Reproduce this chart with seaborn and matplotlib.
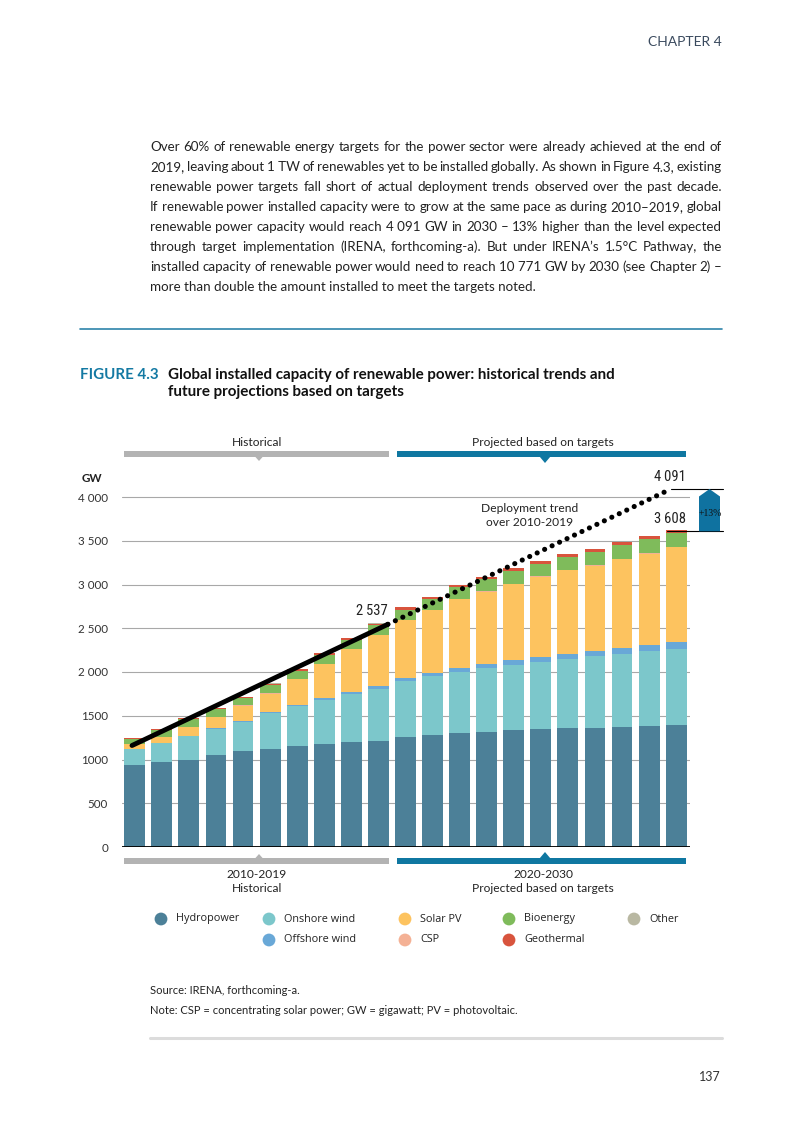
import numpy as np
import pandas as pd
import seaborn as sns
import matplotlib
matplotlib.use("Agg")
import matplotlib.pyplot as plt
from matplotlib import font_manager as fm
from matplotlib.patches import Polygon, Rectangle
from matplotlib.lines import Line2D
from matplotlib.transforms import blended_transform_factory

# ---------------- data ----------------
years = list(range(2010, 2031))
hydropower    = [942, 977, 1000, 1046, 1092, 1115, 1149, 1172, 1195, 1207, 1253, 1276, 1299, 1310, 1333, 1345, 1356, 1356, 1368, 1379, 1391]
onshore_wind  = [180, 211, 265, 306, 337, 417, 464, 510, 552, 601, 647, 680, 705, 740, 751, 774, 793, 832, 839, 862, 873]
offshore_wind = [2, 3, 4, 9, 9, 12, 15, 19, 23, 31, 31, 34, 42, 42, 57, 57, 58, 53, 69, 69, 84]
solar_pv      = [48, 69, 106, 126, 178, 210, 287, 386, 488, 580, 660, 716, 787, 825, 864, 913, 955, 971, 1010, 1040, 1075]
csp           = [1, 1, 2, 3, 4, 4, 5, 5, 6, 6, 6, 6, 6, 6, 6, 6, 6, 7, 7, 7, 8]
bioenergy     = [56, 76, 83, 82, 79, 92, 91, 103, 101, 109, 117, 121, 128, 140, 144, 140, 151, 158, 157, 159, 155]
geothermal    = [14, 15, 13, 15, 17, 17, 18, 20, 20, 20, 24, 25, 24, 25, 28, 32, 28, 30, 32, 34, 34]
other         = [2, 2, 2, 2, 2, 2, 2, 2, 3, 3, 3, 3, 3, 3, 3, 3, 3, 3, 3, 3, 3]

series_names = ["Hydropower", "Onshore wind", "Offshore wind", "Solar PV", "CSP", "Bioenergy", "Geothermal", "Other"]
series_colors = ["#4c8098", "#7cc7cb", "#69a8d7", "#fdc35f", "#f4b195", "#7fbb5b", "#d8543d", "#b9b8a2"]

# deployment trend 2010-2019 extrapolated to 2030 (bar index, GW)
trend_index = [-0.1, 9.35, 19.8]
trend_gw = [1160, 2545, 4091]
label_2019 = "2\u2009537"
label_trend_2030 = "4\u2009091"
label_target_2030 = "3\u2009608"
value_target_2030 = 3608
value_trend_2030 = 4091
pct_label = "+13%"

yticks = [0, 500, 1000, 1500, 2000, 2500, 3000, 3500, 4000]
ytick_labels = ["0", "500", "1000", "1500", "2 000", "2 500", "3 000", "3 500", "4 000"]

body_lines = [
    "Over 60% of renewable energy targets for the power sector were already achieved at the end of",
    "2019, leaving about 1\u00a0TW of renewables yet to be installed globally. As shown in Figure 4.3, existing",
    "renewable power targets fall short of actual deployment trends observed over the past decade.",
    "If renewable power installed capacity were to grow at the same pace as during 2010\u20132019, global",
    "renewable power capacity would reach 4\u00a0091 GW in 2030 \u2013 13% higher than the level expected",
    "through target implementation (IRENA, forthcoming-a). But under IRENA\u2019s 1.5\u00b0C Pathway, the",
    "installed capacity of renewable power would need to reach 10\u00a0771 GW by 2030 (see Chapter 2) \u2013",
    "more than double the amount installed to meet the targets noted.",
]

# ---------------- fonts ----------------
def has_font(name):
    try:
        fm.findfont(fm.FontProperties(family=name), fallback_to_default=False)
        return True
    except Exception:
        return False

NARROW = "Liberation Sans Narrow" if has_font("Liberation Sans Narrow") else ("Roboto Condensed" if has_font("Roboto Condensed") else "Liberation Sans")
BODY = "Lato" if has_font("Lato") else "DejaVu Sans"
TITLE = "Lato" if has_font("Lato") else "DejaVu Sans"
WIDE = "Open Sans" if has_font("Open Sans") else BODY

sns.set_theme(style="white")
plt.rcParams["font.family"] = [BODY, "DejaVu Sans"]

W, H = 803, 1134
fig = plt.figure(figsize=(W / 100, H / 100), dpi=100)
page = fig.add_axes([0, 0, 1, 1])
page.set_xlim(0, W)
page.set_ylim(H, 0)
page.axis("off")
renderer = fig.canvas.get_renderer()

def twidth(s, size, family, weight="normal"):
    t = page.text(0, 0, s, fontsize=size, fontfamily=family, fontweight=weight)
    w = t.get_window_extent(renderer).width
    t.remove()
    return w

def fit_size(s, target, family, weight="normal"):
    return 10 * target / twidth(s, 10, family, weight)

# ---------------- chart ----------------
Y0 = 847.0
PX_PER_GW = 0.0875
YMAX = 4350
ax_top = Y0 - YMAX * PX_PER_GW
ax = fig.add_axes([122 / W, (H - Y0) / H, 568 / W, (Y0 - ax_top) / H])
ax.set_facecolor("none")

df = pd.DataFrame({
    "year": [str(y) for y in years],
    "Hydropower": hydropower, "Onshore wind": onshore_wind, "Offshore wind": offshore_wind,
    "Solar PV": solar_pv, "CSP": csp, "Bioenergy": bioenergy, "Geothermal": geothermal, "Other": other,
})
cum = df[series_names].cumsum(axis=1)
for name, col in reversed(list(zip(series_names, series_colors))):
    sns.barplot(x=df["year"], y=cum[name], color=col, saturation=1, width=0.77,
                errorbar=None, linewidth=0, ax=ax, zorder=2)

tick_size = fit_size("4 000", 30, BODY)
ax.set_xlabel("")
ax.set_ylabel("")
ax.set_xticks([])
ax.set_xlim(-0.47, 20.51)
ax.set_ylim(0, YMAX)
ax.set_yticks(yticks)
ax.set_yticklabels(ytick_labels, fontfamily=BODY, fontsize=tick_size, color="#333333")
ax.tick_params(axis="y", length=0, pad=10)
ax.yaxis.grid(True, color="#a8a8a8", lw=0.8)
ax.set_axisbelow(True)
for s in ax.spines.values():
    s.set_visible(False)
ax.axhline(0, color="black", lw=1.3, zorder=3)

# trend line
ax.plot(trend_index[:2], trend_gw[:2], color="black", lw=3.5, solid_capstyle="round", zorder=6)
ax.plot(trend_index[1:], trend_gw[1:], color="black", lw=3.7, linestyle=(0, (0.01, 1.6)),
        dash_capstyle="round", zorder=6, clip_on=False)

# annotations on the right
tr = blended_transform_factory(page.transData, ax.transData)
ax.add_line(Line2D([671, 723], [value_trend_2030] * 2, color="black", lw=0.8, transform=tr, clip_on=False))
ax.add_line(Line2D([667, 723], [value_target_2030] * 2, color="black", lw=0.8, transform=tr, clip_on=False))
shoulder = 85
arrow = Polygon([(699, value_target_2030), (720, value_target_2030), (720, value_trend_2030 - shoulder),
                 (709.5, value_trend_2030), (699, value_trend_2030 - shoulder)],
                closed=True, facecolor="#0f72a0", edgecolor="none", transform=tr, clip_on=False, zorder=7)
ax.add_patch(arrow)
ax.text(710, (value_target_2030 + value_trend_2030) / 2 - 40, pct_label, transform=tr, ha="center", va="center",
        fontsize=7, color="#111111", fontfamily="Liberation Serif", zorder=8)

num = dict(fontsize=10.5, fontfamily=NARROW, color="#222222", va="center")
page.text(686, 477, label_trend_2030, ha="right", **num)
page.text(686, 519, label_target_2030, ha="right", **num)
page.text(372, 611, label_2019, ha="center", **num)

lab_size = fit_size("Projected based on targets", 141, BODY)
lab = dict(ha="center", va="center", fontsize=lab_size, fontfamily=BODY, color="#222222")
page.text(530, 508, "Deployment trend", **lab)
page.text(530, 522, "over 2010-2019", **lab)
page.text(82, 479, "GW", ha="left", va="center", fontsize=tick_size, fontfamily=BODY, color="#222222", fontweight="bold")

# brackets
GRAY = "#b3b3b3"
BLUE = "#0f77a1"
def bracket(x0, x1, yc, color, tri_x, tri_w, tri_h, up):
    page.add_patch(Rectangle((x0, yc - 3), x1 - x0, 6, facecolor=color, edgecolor="none"))
    if up:
        pts = [(tri_x - tri_w / 2, yc - 2.5), (tri_x + tri_w / 2, yc - 2.5), (tri_x, yc - 3 - tri_h)]
    else:
        pts = [(tri_x - tri_w / 2, yc + 2.5), (tri_x + tri_w / 2, yc + 2.5), (tri_x, yc + 3 + tri_h)]
    page.add_patch(Polygon(pts, closed=True, facecolor=color, edgecolor="none"))

bracket(124, 389, 454, GRAY, 259, 8, 4, up=False)
bracket(397, 686, 454, BLUE, 545, 11, 6, up=False)
bracket(124, 389, 861, GRAY, 259, 8, 4, up=True)
bracket(397, 686, 861, BLUE, 545, 11, 6, up=True)
page.text(257, 442, "Historical", **lab)
page.text(543, 442, "Projected based on targets", **lab)
page.text(257, 874, "2010-2019", **lab)
page.text(257, 888, "Historical", **lab)
page.text(543, 874, "2020-2030", **lab)
page.text(543, 888, "Projected based on targets", **lab)

# legend
leg_size = fit_size("Onshore wind", 71, WIDE)
legend_pos = {"Hydropower": (161, 919), "Onshore wind": (269, 919), "Offshore wind": (269, 940),
              "Solar PV": (405, 919), "CSP": (405, 940), "Bioenergy": (509, 919),
              "Geothermal": (509, 940), "Other": (634, 919)}
for name, col in zip(series_names, series_colors):
    x, y = legend_pos[name]
    page.scatter([x], [y], s=85, color=col, edgecolors="none")
    page.text(x + 15, y, name, ha="left", va="center", fontsize=leg_size, fontfamily=WIDE, color="#222222")

# ---------------- page text ----------------
page.text(722, 42, "CHAPTER 4", ha="right", va="center", fontsize=10, color="#3a4a5e", fontfamily=BODY)
page.add_line(Line2D([80, 722], [329, 329], color="#2e84aa", lw=1.2))
title_size = fit_size("Global installed capacity of renewable power: historical trends and", 448, TITLE, "bold")
page.text(80, 375, "FIGURE 4.3", ha="left", va="center", fontsize=title_size, fontweight="bold", color="#1379a3", fontfamily=TITLE)
page.text(168, 375, "Global installed capacity of renewable power: historical trends and", ha="left", va="center",
          fontsize=title_size, fontweight="bold", color="#111111", fontfamily=TITLE)
page.text(168, 392, "future projections based on targets", ha="left", va="center",
          fontsize=title_size, fontweight="bold", color="#111111", fontfamily=TITLE)

body_size = fit_size(body_lines[0], 566, BODY)
X0, X1 = 150, 722
for i, line in enumerate(body_lines):
    yb = 151 + 20 * i
    if i == len(body_lines) - 1:
        page.text(X0, yb, line, ha="left", va="baseline", fontsize=body_size, fontfamily=BODY, color="#222222")
        continue
    words = line.split(" ")
    ws = [twidth(w, body_size, BODY) for w in words]
    gap = (X1 - X0 - sum(ws)) / (len(words) - 1)
    x = X0
    for w, wd in zip(words, ws):
        page.text(x, yb, w, ha="left", va="baseline", fontsize=body_size, fontfamily=BODY, color="#222222")
        x += wd + gap

note = "Note: CSP = concentrating solar power; GW = gigawatt; PV = photovoltaic."
note_size = fit_size(note, 365, BODY)
page.text(150, 991, "Source: IRENA, forthcoming-a.", ha="left", va="center", fontsize=note_size, fontfamily=BODY, color="#222222")
page.text(150, 1011, note, ha="left", va="center", fontsize=note_size, fontfamily=BODY, color="#222222")
page.add_line(Line2D([150, 722], [1038, 1038], color="#dcdcdc", lw=2.2))
page.text(721, 1077, "137", ha="right", va="center", fontsize=9, fontfamily=BODY, color="#333333")

fig.savefig("out.png", dpi=100)
